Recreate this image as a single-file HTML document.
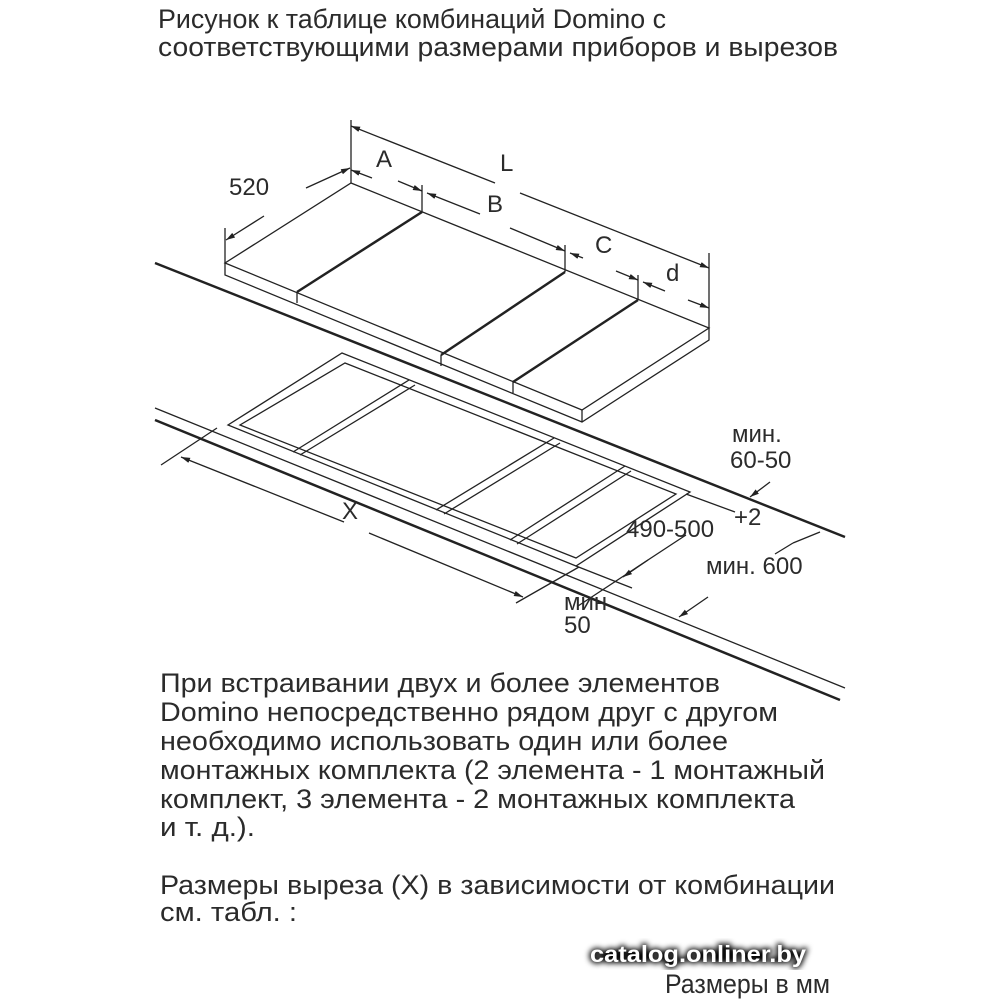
<!DOCTYPE html>
<html><head><meta charset="utf-8"><style>
html,body{margin:0;padding:0;background:#fff;}
svg{display:block;}
text{font-family:"Liberation Sans",sans-serif;fill:#2b2b2b;}
</style></head><body>
<svg width="1000" height="1000" viewBox="0 0 1000 1000" xmlns="http://www.w3.org/2000/svg">
<defs>
<marker id="ar" viewBox="0 0 10 10" refX="10" refY="5" markerWidth="7" markerHeight="7" orient="auto-start-reverse"><path d="M0,2 L10,5 L0,8 z" fill="#222"/></marker>
<filter id="gl"><feGaussianBlur stdDeviation="3"/></filter>
</defs>
<!-- title -->
<text x="158" y="28" font-size="27" textLength="508" lengthAdjust="spacingAndGlyphs">Рисунок к таблице комбинаций Domino с</text>
<text x="158" y="56" font-size="27" textLength="680" lengthAdjust="spacingAndGlyphs">соответствующими размерами приборов и вырезов</text>

<g stroke="#222" fill="none" stroke-width="1.3">
<line x1="155" y1="263" x2="845" y2="537" stroke-width="2.5"/>
<polygon points="351,183 709,328 582,410 225,263" fill="#fff"/>
<polyline points="225,263 225,275 582,422 709,340 709,328"/>
<line x1="582" y1="410" x2="582" y2="422"/>
<line x1="422" y1="212" x2="297" y2="292" stroke-width="2.5"/>
<line x1="565" y1="272" x2="441" y2="355" stroke-width="2.5"/>
<line x1="638" y1="300" x2="513" y2="382" stroke-width="2.5"/>
<line x1="297" y1="292" x2="297" y2="303"/>
<line x1="441" y1="355" x2="441" y2="366"/>
<line x1="513" y1="382" x2="513" y2="393"/>
<line x1="351" y1="120" x2="351" y2="183"/>
<line x1="709" y1="253" x2="709" y2="328"/>
<line x1="351" y1="126" x2="495" y2="183" marker-start="url(#ar)"/>
<line x1="520" y1="193" x2="709" y2="268" marker-end="url(#ar)"/>
<line x1="422" y1="185" x2="422" y2="212"/>
<line x1="565" y1="245" x2="565" y2="272"/>
<line x1="638" y1="275" x2="638" y2="300"/>
<line x1="372" y1="178" x2="351" y2="170" marker-end="url(#ar)"/>
<line x1="398" y1="181" x2="422" y2="191" marker-end="url(#ar)"/>
<line x1="427" y1="193" x2="480" y2="214" marker-start="url(#ar)"/>
<line x1="510" y1="228" x2="565" y2="251" marker-end="url(#ar)"/>
<line x1="570" y1="253" x2="583" y2="258" marker-start="url(#ar)"/>
<line x1="616" y1="271" x2="638" y2="280" marker-end="url(#ar)"/>
<line x1="643" y1="282" x2="665" y2="291" marker-start="url(#ar)"/>
<line x1="688" y1="300" x2="709" y2="308" marker-end="url(#ar)"/>
<line x1="225" y1="228" x2="225" y2="263"/>
<line x1="226" y1="240" x2="264" y2="216" marker-start="url(#ar)"/>
<line x1="306" y1="188" x2="350" y2="168" marker-end="url(#ar)"/>
<polygon points="342,353 690,492 576,566 228,425"/>
<polygon points="345,363 676,494 576,558 240,425"/>
<line x1="409" y1="380" x2="293" y2="452"/><line x1="415" y1="385" x2="300" y2="455"/>
<line x1="554" y1="438" x2="436" y2="510"/><line x1="560" y1="443" x2="444" y2="514"/>
<line x1="625" y1="466" x2="510" y2="540"/><line x1="631" y1="471" x2="517" y2="544"/>
<line x1="576" y1="566" x2="632" y2="588"/>
<line x1="686" y1="494" x2="735" y2="512"/>
<line x1="155" y1="408" x2="845" y2="688"/>
<line x1="155" y1="420" x2="840" y2="700" stroke-width="2.5"/>
<line x1="161" y1="465" x2="217" y2="428"/>
<line x1="516" y1="603" x2="579" y2="567"/>
<line x1="181" y1="457" x2="344" y2="522" marker-start="url(#ar)"/>
<line x1="369" y1="533" x2="523" y2="597" marker-end="url(#ar)"/>
<line x1="623" y1="577" x2="648" y2="560" marker-start="url(#ar)"/>
<line x1="578" y1="606" x2="686" y2="535"/>
<line x1="708" y1="597" x2="679" y2="617" marker-end="url(#ar)"/>
<line x1="820" y1="532" x2="793" y2="543"/>
<line x1="793" y1="543" x2="775" y2="554"/>
<line x1="770" y1="482" x2="750" y2="497" marker-end="url(#ar)"/>
</g>
<g font-size="24">
<text x="229" y="195">520</text>
<text x="376" y="167">A</text>
<text x="500" y="171">L</text>
<text x="487" y="212">B</text>
<text x="595" y="253">C</text>
<text x="666" y="281">d</text>
<text x="732" y="442">мин.</text>
<text x="730" y="468">60-50</text>
<text x="626" y="537">490-500</text>
<text x="734" y="525">+2</text>
<text x="706" y="574">мин. 600</text>
<text x="342" y="519">X</text>
<text x="564" y="610">мин</text>
<text x="564" y="633">50</text>
</g>
<g font-size="27">
<text x="160" y="692" textLength="560" lengthAdjust="spacingAndGlyphs">При встраивании двух и более элементов</text>
<text x="160" y="721" textLength="618" lengthAdjust="spacingAndGlyphs">Domino непосредственно рядом друг с другом</text>
<text x="160" y="750" textLength="568" lengthAdjust="spacingAndGlyphs">необходимо использовать один или более</text>
<text x="160" y="779" textLength="665" lengthAdjust="spacingAndGlyphs">монтажных комплекта (2 элемента - 1 монтажный</text>
<text x="160" y="808" textLength="635" lengthAdjust="spacingAndGlyphs">комплект, 3 элемента - 2 монтажных комплекта</text>
<text x="160" y="836" textLength="95" lengthAdjust="spacingAndGlyphs">и т. д.).</text>
<text x="160" y="894" textLength="675" lengthAdjust="spacingAndGlyphs">Размеры выреза (X) в зависимости от комбинации</text>
<text x="160" y="921" textLength="137" lengthAdjust="spacingAndGlyphs">см. табл. :</text>
<text x="665" y="993" textLength="165" lengthAdjust="spacingAndGlyphs">Размеры в мм</text>
</g>
<text x="590" y="962" font-size="23" font-weight="bold" textLength="216" lengthAdjust="spacingAndGlyphs" style="fill:#000" filter="url(#gl)" stroke="#000" stroke-width="3">catalog.onliner.by</text>
<text x="590" y="962" font-size="23" font-weight="bold" textLength="216" lengthAdjust="spacingAndGlyphs" style="fill:#fff">catalog.onliner.by</text>
</svg>
</body></html>
